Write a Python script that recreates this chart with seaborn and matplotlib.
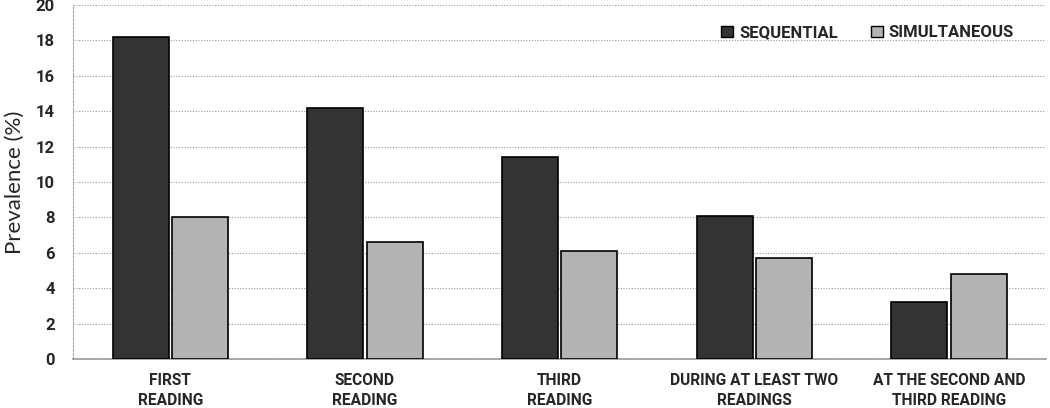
import pandas as pd
import matplotlib
matplotlib.use("Agg")
import matplotlib.pyplot as plt
import seaborn as sns
from matplotlib.patches import Patch

categories = ["FIRST\nREADING", "SECOND\nREADING", "THIRD\nREADING",
              "DURING AT LEAST TWO\nREADINGS", "AT THE SECOND AND\nTHIRD READING"]
sequential = [18.2, 14.2, 11.4, 8.1, 3.2]
simultaneous = [8.0, 6.6, 6.1, 5.7, 4.8]
series = ["SEQUENTIAL", "SIMULTANEOUS"]
colors = ["#333333", "#b3b3b3"]

df = pd.DataFrame({
    "category": categories * 2,
    "value": sequential + simultaneous,
    "series": [series[0]] * len(categories) + [series[1]] * len(categories),
})

sns.set_style("white")
plt.rcParams["font.family"] = ["Roboto", "DejaVu Sans"]
plt.rcParams["font.weight"] = "bold"

fig = plt.figure(figsize=(10.5, 4.08), dpi=100)
ax = fig.add_axes([0.0695, 0.12, 0.927, 0.868])

sns.barplot(data=df, x="category", y="value", hue="series", palette=colors,
            width=0.61, gap=0.06, edgecolor="black", linewidth=1.2,
            legend=False, ax=ax, zorder=3)

ax.set_ylim(0, 20)
ax.set_yticks(range(0, 21, 2))
ax.set_xlim(-0.5, len(categories) - 0.5)
ax.yaxis.grid(True, linestyle=(0, (1, 1.5)), color="#999999", linewidth=0.8, zorder=0)
ax.set_axisbelow(True)

for s in ["top", "right"]:
    ax.spines[s].set_visible(False)
ax.spines["left"].set_linestyle((0, (2, 1.5)))
ax.spines["left"].set_color("#aaaaaa")
ax.spines["bottom"].set_color("#999999")
ax.spines["bottom"].set_linewidth(1.2)

ax.tick_params(axis="both", length=0, labelsize=12)
ax.tick_params(axis="x", pad=10)
ax.tick_params(axis="y", pad=13)
ax.set_xticks(range(len(categories)))
ax.set_xticklabels(categories, fontweight="bold", linespacing=1.4, fontsize=11.2)
ax.set_xlabel("")
ax.set_ylabel("Prevalence (%)", fontsize=16, fontweight="normal",
              family=["Lato", "DejaVu Sans"], labelpad=8)

handles = [Patch(facecolor=c, edgecolor="black", linewidth=1) for c in colors]
leg = ax.legend(handles, series, loc="upper right", bbox_to_anchor=(0.982, 0.985),
                ncol=2, frameon=False, handlelength=0.7, handleheight=0.7,
                handletextpad=0.35, columnspacing=2.0,
                prop={"weight": "bold", "size": 12})

fig.savefig("out.png", dpi=100)
